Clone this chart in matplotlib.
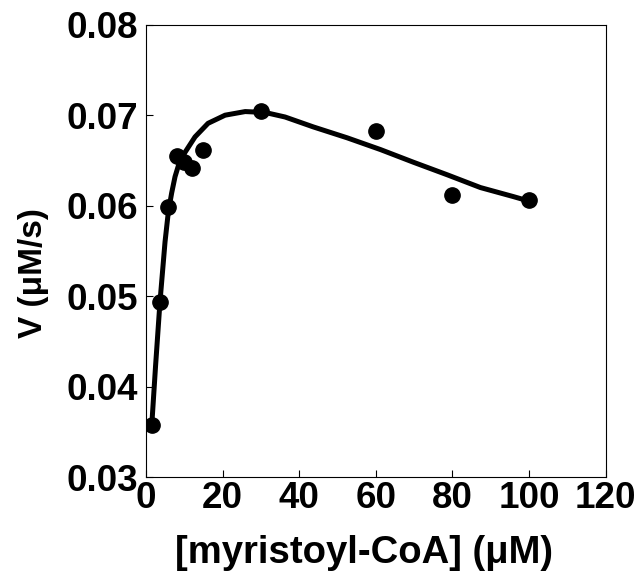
import matplotlib
matplotlib.use('Agg')
import matplotlib.pyplot as plt

plt.rcParams['font.family'] = ['Liberation Sans', 'DejaVu Sans']
plt.rcParams['font.weight'] = 'bold'

# measured points
conc = [1.5, 3.7, 5.8, 8, 10, 12, 15, 30, 60, 80, 100]
rate = [0.0357, 0.0494, 0.0599, 0.0655, 0.0648, 0.0642, 0.0662, 0.0705, 0.0682, 0.0612, 0.0606]

# fitted curve
fit_x = [1.5, 2.5, 3.66, 4.97, 5.83, 6.7, 7.58, 8.44, 9.33, 10.2, 12.8, 16.2, 20.65,
         25.9, 31.1, 36.3, 43.7, 52.5, 61.2, 69.8, 78.7, 87.3, 95.9, 100]
fit_y = [0.0357, 0.0423, 0.0494, 0.0560, 0.0593, 0.0614, 0.0632, 0.0644, 0.0652,
         0.0659, 0.0676, 0.0691, 0.0700, 0.0704, 0.0703, 0.0698, 0.0687, 0.0675,
         0.0662, 0.0648, 0.0634, 0.0620, 0.0610, 0.0605]

xticks = [0, 20, 40, 60, 80, 100, 120]
yticks = [0.03, 0.04, 0.05, 0.06, 0.07, 0.08]

fig = plt.figure(figsize=(6.44, 5.71), dpi=100)
ax = fig.add_axes([0.2267, 0.1646, 0.7138, 0.7921])

ax.plot(fit_x, fit_y, color='black', lw=3.6, solid_capstyle='round', solid_joinstyle='round')
ax.plot(conc, rate, 'o', color='black', ms=11, zorder=3)

ax.set_xlim(0, 120)
ax.set_ylim(0.03, 0.08)
ax.set_xticks(xticks)
ax.set_yticks(yticks)
ax.set_yticklabels(['%.2f' % v for v in yticks])
ax.tick_params(direction='in', length=5, width=0.8, labelsize=26.5, top=False, right=False)
ax.tick_params(axis='y', pad=6)
ax.tick_params(axis='x', pad=3)
for s in ax.spines.values():
    s.set_linewidth(0.8)

ax.set_xlabel('[myristoyl-CoA] (μM)', fontsize=27.5, fontweight='bold')
ax.set_ylabel('V (μM/s)', fontsize=24, fontweight='bold')
ax.xaxis.set_label_coords(0.474, -0.128)
ax.yaxis.set_label_coords(-0.21, 0.452)

fig.savefig('out.png', dpi=100)
